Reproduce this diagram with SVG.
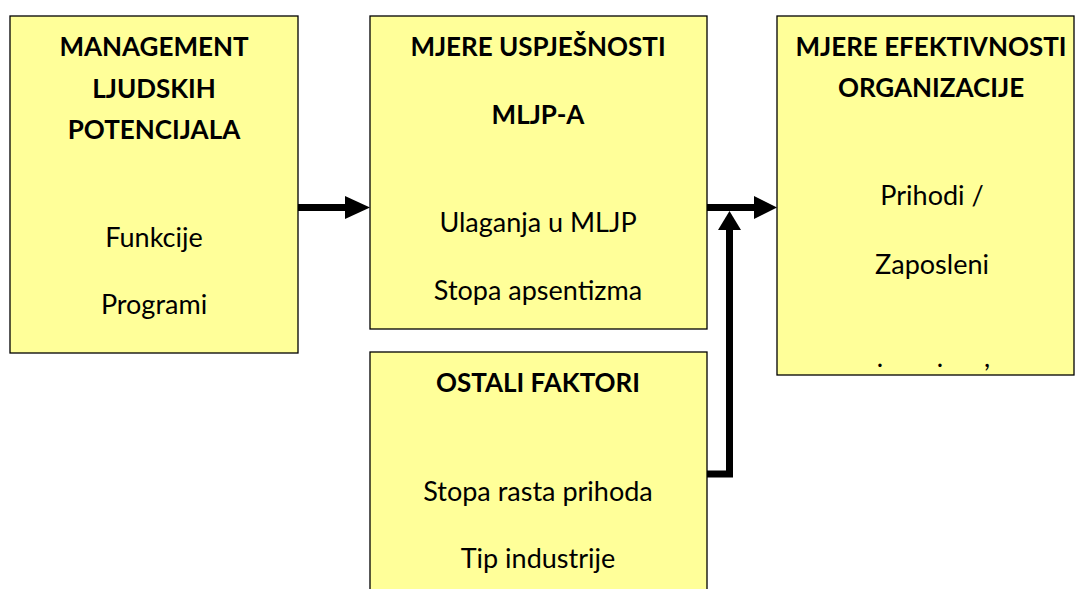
<svg xmlns="http://www.w3.org/2000/svg" width="1076" height="589" viewBox="0 0 1076 589">
<style>
.box{fill:#FFFF99;stroke:#000;stroke-width:1.3}
.h{font-family:Lato,"Liberation Sans",sans-serif;font-weight:bold;font-size:26px;fill:#000;text-anchor:middle}
.t{font-family:Lato,"Liberation Sans",sans-serif;font-size:27px;fill:#000;text-anchor:middle}
.c{fill:none;stroke:#000;stroke-width:7}
.ah{fill:#000}
</style>
<rect width="1076" height="589" fill="#fff"/>
<g id="node-mlp">
<rect class="box" x="10" y="16" width="288" height="337"/>
<text class="h" x="154" y="56">MANAGEMENT</text>
<text class="h" x="154" y="98">LJUDSKIH</text>
<text class="h" x="154" y="139">POTENCIJALA</text>
<text class="t" x="154" y="247">Funkcije</text>
<text class="t" x="154" y="314">Programi</text>
</g>
<g id="node-uspjesnost">
<rect class="box" x="370" y="16" width="337" height="313"/>
<text class="h" x="538" y="56">MJERE USPJEŠNOSTI</text>
<text class="h" x="538" y="124">MLJP-A</text>
<text class="t" x="538" y="232">Ulaganja u MLJP</text>
<text class="t" x="538" y="300">Stopa apsentizma</text>
</g>
<g id="node-efektivnost">
<rect class="box" x="777" y="16" width="297" height="359"/>
<text class="h" x="931" y="56">MJERE EFEKTIVNOSTI</text>
<text class="h" x="931" y="97">ORGANIZACIJE</text>
<text class="t" x="932" y="205">Prihodi /</text>
<text class="t" x="932" y="274">Zaposleni</text>
<text class="t" x="880" y="367">.</text>
<text class="t" x="940" y="367">.</text>
<text class="t" x="987" y="367">,</text>
</g>
<g id="node-ostali">
<rect class="box" x="370" y="352" width="337" height="250"/>
<text class="h" x="538" y="392">OSTALI FAKTORI</text>
<text class="t" x="538" y="501">Stopa rasta prihoda</text>
<text class="t" x="538" y="568">Tip industrije</text>
</g>
<g id="connectors">
<line class="c" x1="298" y1="207.5" x2="346" y2="207.5"/>
<polygon class="ah" points="345,196 370,207.5 345,219"/>
<line class="c" x1="707" y1="207.5" x2="755" y2="207.5"/>
<polygon class="ah" points="754,196 777,207.5 754,219"/>
<polyline class="c" points="707,474 729.5,474 729.5,228"/>
<polygon class="ah" points="718,230 729.5,211 741,230"/>
</g>
</svg>
